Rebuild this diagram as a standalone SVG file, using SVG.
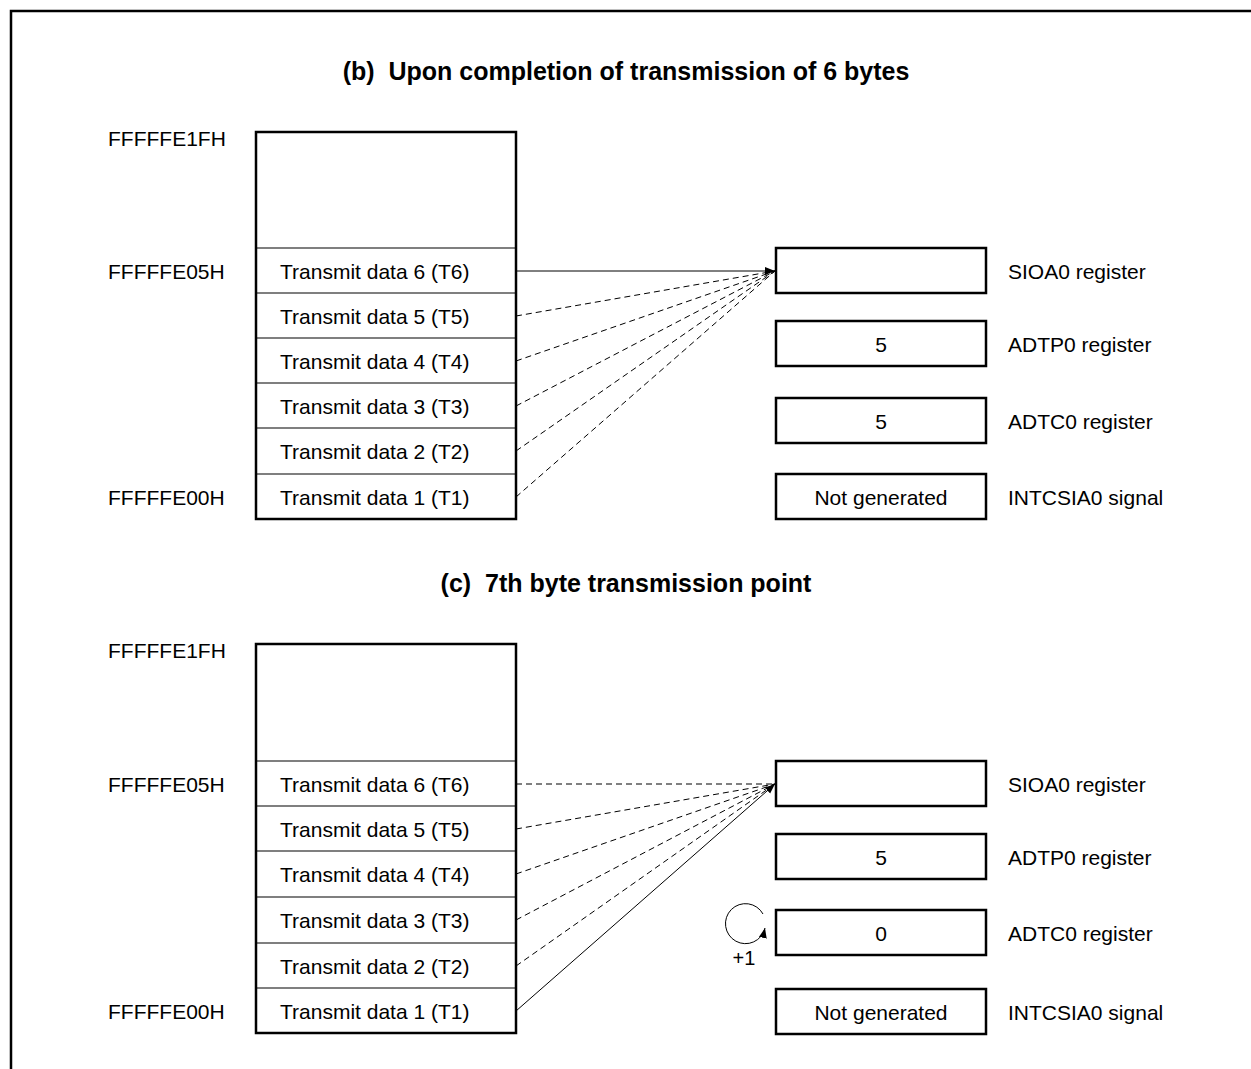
<svg xmlns="http://www.w3.org/2000/svg" width="1251" height="1069" viewBox="0 0 1251 1069">
<defs>
<style>
text{font-family:"Liberation Sans",Arial,sans-serif;font-size:21px;fill:#000}
.t{font-weight:bold;text-anchor:middle;font-size:25px}
.c{text-anchor:middle}
.box{fill:#fff;stroke:#000;stroke-width:2.5}
.div{stroke:#000;stroke-width:1.2}
.reg{fill:#fff;stroke:#000;stroke-width:2.5}
.sol{stroke:#000;stroke-width:1;fill:none}
.dash{stroke:#000;stroke-width:1;fill:none;stroke-dasharray:6,4}
</style>
<marker id="ah" viewBox="0 0 10 10" refX="10" refY="5" markerWidth="10" markerHeight="10" markerUnits="userSpaceOnUse" orient="auto">
<path d="M0,1 L10,5 L0,9 Z" fill="#000"/>
</marker>
</defs>
<rect width="1251" height="1069" fill="#fff"/>
<path d="M11,1069 V11 H1251" fill="none" stroke="#000" stroke-width="2.5"/>

<text class="t" x="626" y="80" xml:space="preserve">(b)  Upon completion of transmission of 6 bytes</text>
<text class="t" x="626" y="592" xml:space="preserve">(c)  7th byte transmission point</text>

<g id="mem-b">
<rect class="box" x="256" y="132" width="260" height="387"/>
<line class="div" x1="256" y1="248" x2="516" y2="248"/>
<line class="div" x1="256" y1="293" x2="516" y2="293"/>
<line class="div" x1="256" y1="338" x2="516" y2="338"/>
<line class="div" x1="256" y1="383" x2="516" y2="383"/>
<line class="div" x1="256" y1="428" x2="516" y2="428"/>
<line class="div" x1="256" y1="474" x2="516" y2="474"/>
<text x="280" y="279">Transmit data 6 (T6)</text>
<text x="280" y="324">Transmit data 5 (T5)</text>
<text x="280" y="369">Transmit data 4 (T4)</text>
<text x="280" y="414">Transmit data 3 (T3)</text>
<text x="280" y="459">Transmit data 2 (T2)</text>
<text x="280" y="505">Transmit data 1 (T1)</text>
</g>
<g id="addr-b">
<text x="108" y="146">FFFFFE1FH</text>
<text x="108" y="279">FFFFFE05H</text>
<text x="108" y="505">FFFFFE00H</text>
</g>
<g id="regs-b">
<g id="sioa0-b"><rect class="reg" x="776" y="248" width="210" height="45"/><text x="1008" y="279">SIOA0 register</text></g>
<g id="adtp0-b"><rect class="reg" x="776" y="321" width="210" height="45"/><text class="c" x="881" y="352">5</text><text x="1008" y="352">ADTP0 register</text></g>
<g id="adtc0-b"><rect class="reg" x="776" y="398" width="210" height="45"/><text class="c" x="881" y="429">5</text><text x="1008" y="429">ADTC0 register</text></g>
<g id="intcsia0-b"><rect class="reg" x="776" y="474" width="210" height="45"/><text class="c" x="881" y="505">Not generated</text><text x="1008" y="505">INTCSIA0 signal</text></g>
</g>

<g id="mem-c">
<rect class="box" x="256" y="644" width="260" height="389"/>
<line class="div" x1="256" y1="761" x2="516" y2="761"/>
<line class="div" x1="256" y1="806" x2="516" y2="806"/>
<line class="div" x1="256" y1="851" x2="516" y2="851"/>
<line class="div" x1="256" y1="897" x2="516" y2="897"/>
<line class="div" x1="256" y1="943" x2="516" y2="943"/>
<line class="div" x1="256" y1="988" x2="516" y2="988"/>
<text x="280" y="792">Transmit data 6 (T6)</text>
<text x="280" y="837">Transmit data 5 (T5)</text>
<text x="280" y="882">Transmit data 4 (T4)</text>
<text x="280" y="928">Transmit data 3 (T3)</text>
<text x="280" y="974">Transmit data 2 (T2)</text>
<text x="280" y="1019">Transmit data 1 (T1)</text>
</g>
<g id="addr-c">
<text x="108" y="658">FFFFFE1FH</text>
<text x="108" y="792">FFFFFE05H</text>
<text x="108" y="1019">FFFFFE00H</text>
</g>
<g id="regs-c">
<g id="sioa0-c"><rect class="reg" x="776" y="761" width="210" height="45"/><text x="1008" y="792">SIOA0 register</text></g>
<g id="adtp0-c"><rect class="reg" x="776" y="834" width="210" height="45"/><text class="c" x="881" y="865">5</text><text x="1008" y="865">ADTP0 register</text></g>
<g id="adtc0-c"><rect class="reg" x="776" y="910" width="210" height="45"/><text class="c" x="881" y="941">0</text><text x="1008" y="941">ADTC0 register</text></g>
<g id="intcsia0-c"><rect class="reg" x="776" y="989" width="210" height="45"/><text class="c" x="881" y="1020">Not generated</text><text x="1008" y="1020">INTCSIA0 signal</text></g>
</g>

<g id="counter">
<path class="sol" d="M763,914 A20,20 0 1 0 765,928" marker-end="url(#ah)"/>
<text class="c" x="744" y="965" style="font-size:20px">+1</text>
</g>

<g id="connectors">
<line class="sol" x1="516" y1="271" x2="775" y2="271" marker-end="url(#ah)"/>
<line class="dash" x1="516" y1="316" x2="775" y2="271"/>
<line class="dash" x1="516" y1="361" x2="775" y2="271"/>
<line class="dash" x1="516" y1="406" x2="775" y2="271"/>
<line class="dash" x1="516" y1="451" x2="775" y2="271"/>
<line class="dash" x1="516" y1="497" x2="775" y2="271"/>

<line class="dash" x1="516" y1="784" x2="775" y2="784"/>
<line class="dash" x1="516" y1="829" x2="775" y2="784"/>
<line class="dash" x1="516" y1="874" x2="775" y2="784"/>
<line class="dash" x1="516" y1="920" x2="775" y2="784"/>
<line class="dash" x1="516" y1="966" x2="775" y2="784"/>
<line class="sol" x1="516" y1="1011" x2="775" y2="784" marker-end="url(#ah)"/>
</g>
</svg>
